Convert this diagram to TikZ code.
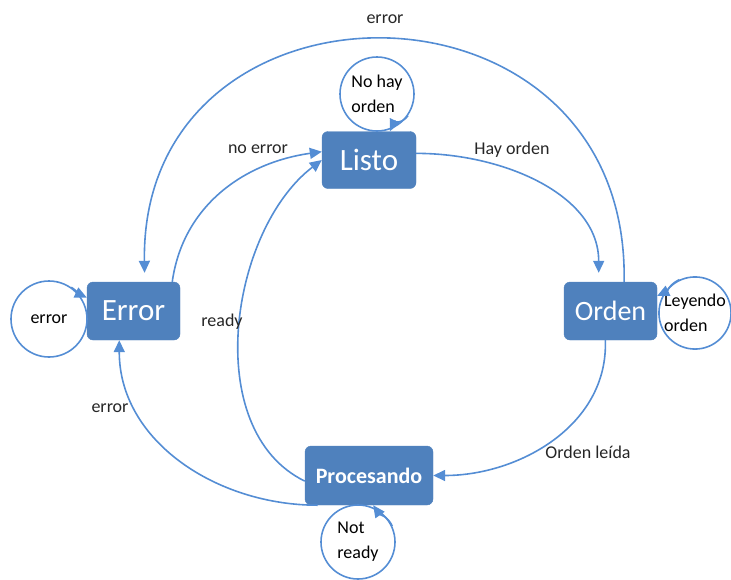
\documentclass[tikz,border=0pt]{standalone}
\usepackage{fontspec}
\setmainfont{Carlito}
\usepackage{tikz}
\usetikzlibrary{arrows.meta}
\definecolor{boxblue}{RGB}{79,129,189}
\definecolor{lineblue}{RGB}{84,141,212}
\tikzset{
    state-box/.style = {fill=boxblue, draw=boxblue, text=white, rectangle, rounded corners=6pt, inner sep=0pt, minimum width=93pt, minimum height=58pt, font=\fontsize{31}{36}\selectfont},
    loop-circle/.style = {draw=lineblue, line width=1.6pt, circle, inner sep=0pt, align=left, font=\fontsize{18}{25}\selectfont},
    flow-line/.style = {draw=lineblue, line width=1.6pt, -{Triangle[length=12pt,width=11pt]}},
    edge-label/.style = {font=\fontsize{18}{22}\selectfont, text=black!85},
}

\begin{document}
\begin{tikzpicture}[x=1pt, y=-1pt]
\useasboundingbox (0,0) rectangle (731,579);
\node [state-box, minimum width=94pt, minimum height=57pt] (listo) at (369,160) {Listo};
\node [state-box] (error) at (133.5,311) {Error};
\node [state-box, font=\fontsize{28}{34}\selectfont] (orden) at (610.5,311) {Orden};
\node [state-box, minimum width=128pt, minimum height=59pt, font=\fontsize{22}{26}\selectfont\bfseries] (proc) at (369,475.5) {Procesando};

% self loops
\node [loop-circle, minimum size=74pt] (nohay) at (377,94) {No hay\\orden};
\node [loop-circle, minimum size=76pt] (errloop) at (49,319) {error};
\node [loop-circle, minimum size=72pt] (leyendo) at (695,313) {Leyendo\\orden};
\node [loop-circle, minimum size=74pt] (notready) at (358,542) {Not\\ready};
\draw [flow-line] (nohay.-35) to[out=-125, in=65] (listo.54);
\draw [flow-line] (errloop.55) to[out=-35, in=155] (error.164);
\draw [flow-line] (leyendo.115) to[out=205, in=25] (orden.18);
\draw [flow-line] (notready.25) to[out=115, in=-55] (proc.-82);

% transitions
\draw [flow-line, shorten >=9pt] (listo.8) to[out=0, in=90] (orden.112);
\draw [flow-line, shorten >=9pt] (orden.65) .. controls (630,-40) and (140,-40) .. (error.69);
\draw [flow-line] (error.37) to[out=82, in=188] (listo.170);
\draw [flow-line] (proc.185) .. controls (200,430) and (230,230) .. (listo.180);
\draw [flow-line] (orden.260) to[out=-88, in=0] (proc.east);
\draw [flow-line] (proc.210) to[out=180, in=-90] (error.244);

\node [edge-label] (lbl-top) at (385,19) {error};
\node [edge-label] (lbl-hay) at (512,150) {Hay orden};
\node [edge-label] (lbl-noerr) at (258,149) {no error};
\node [edge-label] (lbl-ready) at (222,322) {ready};
\node [edge-label] (lbl-leida) at (588,452) {Orden leída};
\node [edge-label] (lbl-err) at (110,408) {error};
\end{tikzpicture}
\end{document}
